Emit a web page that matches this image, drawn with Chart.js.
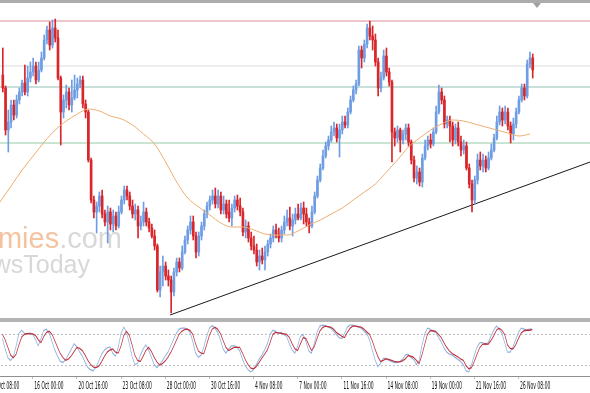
<!DOCTYPE html>
<html>
<head>
<meta charset="utf-8">
<script src="https://cdn.jsdelivr.net/npm/chart.js@4.4.1/dist/chart.umd.min.js"></script>
<style>
  html, body { margin: 0; padding: 0; background: #fff; }
  #wrap { position: relative; width: 590px; height: 393px; overflow: hidden; background: #fff; }
  #main { position: absolute; left: 0; top: 0; }
  #topbar { position: absolute; left: 0; top: 0; width: 590px; height: 3px; background: #acacac; }
  #shift { position: absolute; left: 533px; top: 3px; width: 0; height: 0;
           border-left: 4px solid transparent; border-right: 4px solid transparent; border-top: 5px solid #a0a0a0; }
  #sep { position: absolute; left: 0; top: 318px; width: 590px; height: 4px; background: #b4b4b4; }
  #stochBox { position: absolute; left: -27.56px; top: 322px; transform: scaleX(0.5); transform-origin: 0 0; }
</style>
</head>
<body>
<div id="wrap">
  <canvas id="main" width="590" height="318"></canvas>
  <div id="topbar"></div>
  <div id="shift"></div>
  <div id="sep"></div>
  <div id="stochBox"><canvas id="stoch" width="1235" height="71"></canvas></div>
</div>
<script>
// 4H свечи, индекс бара 0 = 13 Oct 08:00
const FIRST_BAR = 5;

const OPEN = [
  325,312,270,278,295,285,300,308,317,308,
  322,328,334,320,330,342,360,370,355,372,
  362,322,288,300,308,295,302,310,316,320,
  296,288,240,200,188,194,204,186,178,188,
  176,184,174,188,200,210,204,194,186,190,
  174,178,188,178,172,164,154,110,128,134,
  124,120,108,128,138,132,148,160,170,178,
  164,148,164,174,186,194,200,204,196,204,
  190,196,188,182,192,200,194,188,168,174,
  162,154,150,138,144,140,148,156,162,170,
  166,162,170,178,182,174,180,186,182,192,
  186,178,174,188,204,220,232,244,254,260,
  268,272,262,270,278,275,288,300,310,316,
  350,342,356,372,364,360,338,312,322,344,
  328,318,268,262,270,260,266,272,258,240,
  222,228,218,242,254,260,256,268,288,308,
  300,276,280,274,260,272,258,250,254,232,
  216,200,220,240,234,240,232,242,250,262,
  278,288,280,288,274,266,276,288,300,312,
  304,336,342
];
const HIGH = [
  352,314,290,300,300,305,312,320,335,334,
  338,342,338,338,348,365,374,378,380,381,
  370,324,305,315,312,320,325,322,324,324,
  300,290,242,204,198,208,210,190,194,192,
  190,188,194,204,214,214,208,200,196,194,
  184,198,192,182,176,170,156,134,144,138,
  130,124,132,142,142,154,164,174,184,184,
  168,168,178,190,198,204,210,212,210,208,
  204,200,200,196,204,205,202,192,180,178,
  168,164,156,150,152,154,160,166,174,176,
  172,174,184,190,193,186,192,196,197,198,
  192,182,194,208,224,236,250,258,264,274,
  278,276,276,284,284,292,304,314,320,354,
  354,360,376,379,374,366,342,328,350,352,
  332,320,272,274,272,270,276,276,260,244,
  234,232,246,260,264,266,272,294,315,312,
  304,284,284,278,276,278,264,260,258,236,
  220,224,246,248,246,244,248,256,266,284,
  294,292,294,292,278,282,292,304,316,316,
  340,348,346
];
const LOW = [
  308,265,248,272,280,282,296,304,305,304,
  318,324,316,318,328,340,356,350,352,358,
  320,255,282,292,290,288,300,302,312,292,
  282,238,197,182,167,188,182,174,157,170,
  168,170,172,186,196,200,190,182,180,162,
  170,174,174,168,162,150,108,103,114,120,
  114,87,104,124,128,130,146,156,166,160,
  142,144,160,170,182,190,196,192,192,186,
  186,182,178,174,188,190,184,164,162,158,
  150,146,134,130,136,130,144,152,158,162,
  158,158,166,174,170,164,176,180,180,176,
  174,167,172,186,202,218,230,242,250,258,
  264,258,243,266,272,272,286,298,306,314,
  332,338,352,360,350,334,304,308,320,324,
  314,238,254,258,248,256,260,254,236,218,
  216,214,213,240,250,252,254,266,286,296,
  272,272,258,254,256,254,244,246,230,212,
  188,196,216,230,228,228,230,240,248,260,
  275,274,276,270,257,260,272,286,298,300,
  302,332,322
];
const CLOSE = [
  312,270,278,295,285,300,308,317,308,322,
  328,334,320,330,342,360,370,355,372,362,
  322,288,300,308,295,302,310,316,320,296,
  288,240,200,188,194,204,186,178,188,176,
  184,174,188,200,210,204,194,186,190,174,
  178,188,178,172,164,154,110,128,134,124,
  120,108,128,138,132,148,160,170,178,164,
  148,164,174,186,194,200,204,196,204,190,
  196,186,182,192,200,194,188,168,174,162,
  154,150,138,144,140,148,156,162,170,166,
  162,170,178,182,174,180,186,182,192,186,
  178,174,188,204,220,232,244,254,260,268,
  272,262,270,278,275,288,300,310,316,350,
  342,356,372,364,360,338,312,322,344,328,
  318,268,262,270,260,266,272,258,240,222,
  228,218,242,254,260,256,268,288,308,300,
  276,280,274,260,272,258,250,254,232,216,
  200,220,240,234,240,232,242,250,262,278,
  288,280,288,274,266,276,288,300,312,304,
  336,342,330
];

// скользящая средняя, через каждые 4 бара
const MA_BARS = [4,8,12,16,20,24,28,32,36,40,44,48,52,56,60,64,68,72,76,80,84,88,92,96,100,
  104,108,112,116,120,124,128,132,136,140,144,148,152,156,160,164,168,172,176,180,184,188,192,196];
const MA_VALUES = [198,214,230,244,258,270,279,286,291,289,284,281,275,266,256,238,218,202,193,185,177,173,173,170,166,
  165,165,169,175,180,186,192,200,208,216,228,240,253,262,270,276,280,279,276,273,270,267,264,266];

// горизонтальные уровни и трендовая линия
const LEVELS = [379, 334, 313, 257];
const LEVEL_COLORS = ["#d98c95", "#dcdcdc", "#8fc2b4", "#93cba6"];
const TREND_BARS = [65.6, 217.8];
const TREND_VALUES = [85, 238];

// стохастик %K и %D
const STOCH_K = [
  72,52,35,30,38,58,82,88,82,80,
  83,80,70,58,72,88,90,82,66,50,
  38,28,26,32,42,52,62,56,46,38,
  26,16,12,10,18,30,42,50,54,56,
  44,38,56,82,94,84,62,38,22,24,
  40,52,60,50,36,22,16,22,30,38,
  46,58,70,82,90,92,92,90,84,66,
  44,36,40,56,76,92,97,92,84,70,
  52,44,52,58,58,56,48,32,20,12,
  8,12,22,32,40,50,62,80,88,86,
  82,84,80,76,62,50,44,58,76,80,
  66,48,44,62,84,96,98,97,94,92,
  86,80,74,72,82,94,98,98,96,94,
  92,86,82,70,50,32,18,24,34,34,
  30,28,26,26,28,32,40,42,36,32,
  22,30,58,80,92,90,86,84,74,66,
  54,46,42,40,36,32,28,22,10,8,
  22,40,56,64,64,60,64,76,88,96,
  90,82,64,46,46,56,70,84,92,90,
  88,90,90
];
const STOCH_D = [
  80,70,55,40,35,42,60,75,80,82,
  81,81,78,70,64,76,84,86,80,68,
  55,43,35,30,33,39,47,55,53,49,
  40,30,22,17,16,19,28,38,46,50,
  52,46,44,58,78,86,78,60,40,30,
  28,38,49,55,47,36,27,21,24,29,
  36,45,56,68,80,86,89,90,88,80,
  62,48,44,43,60,78,90,94,90,82,
  68,55,49,52,55,55,55,44,32,22,
  15,14,18,26,34,42,50,64,80,84,
  83,82,81,80,74,62,52,49,62,74,
  72,60,49,56,72,86,93,96,95,94,
  90,84,80,76,74,84,92,96,96,95,
  94,90,85,80,68,52,38,28,30,33,
  32,30,28,27,27,29,33,39,38,36,
  30,24,40,60,80,87,87,86,80,74,
  64,55,48,43,40,37,33,30,20,14,
  16,28,42,55,61,62,61,68,77,88,
  92,88,80,60,53,52,60,72,83,87,
  88,88,89
];
const STOCH_LEVELS = [20, 80];

// подписи оси времени, каждые 16 баров
const TICK_BARS = [0,16,32,48,64,80,96,112,128,144,160,176,192];
const TICK_LABELS = ["13 Oct 08:00","16 Oct 00:00","20 Oct 16:00","23 Oct 08:00","28 Oct 00:00","30 Oct 16:00",
  "4 Nov 08:00","7 Nov 00:00","11 Nov 16:00","14 Nov 08:00","19 Nov 00:00","21 Nov 16:00","26 Nov 08:00"];

const COLORS = {
  bull: "#6f9de3",
  bear: "#d9262b",
  ma: "#eeae72",
  trend: "#1a1a1a",
  k: "#8aaedc",
  d: "#c0303a",
  grid: "#b8b8b8"
};

const bars = CLOSE.map((_, k) => FIRST_BAR + k);
const candleColors = CLOSE.map((c, k) => c >= OPEN[k] ? COLORS.bull : COLORS.bear);

const watermark = {
  id: "watermark",
  beforeDatasetsDraw(chart) {
    const ctx = chart.ctx;
    ctx.save();
    ctx.textAlign = "right";
    ctx.textBaseline = "alphabetic";
    ctx.font = '29px "Liberation Sans", Arial, sans-serif';
    const tail = ".com";
    const w = ctx.measureText(tail).width;
    ctx.fillStyle = "#d8d8d8";
    ctx.fillText(tail, 122, 248);
    ctx.fillStyle = "#f4c3a0";
    ctx.fillText("economies", 122 - w, 248);
    ctx.font = '25px "Liberation Sans", Arial, sans-serif';
    ctx.fillStyle = "#d8d8d8";
    ctx.fillText("NewsToday", 90, 273);
    ctx.restore();
  }
};

const hline = (v, color, order) => ({
  type: "line",
  data: [{ x: 0, y: v }, { x: 230, y: v }],
  borderColor: color,
  borderWidth: 1,
  pointRadius: 0,
  order
});

new Chart(document.getElementById("main"), {
  type: "bar",
  data: {
    datasets: [
      {
        type: "line",
        label: "MA",
        data: MA_BARS.map((x, k) => ({ x, y: MA_VALUES[k] })),
        borderColor: COLORS.ma,
        borderWidth: 1,
        pointRadius: 0,
        cubicInterpolationMode: "monotone",
        order: 0
      },
      {
        label: "body",
        data: bars.map((x, k) => ({ x, y: [OPEN[k], CLOSE[k]] })),
        backgroundColor: candleColors,
        barThickness: 2,
        minBarLength: 1,
        grouped: false,
        order: 1
      },
      {
        label: "wick",
        data: bars.map((x, k) => ({ x, y: [LOW[k], HIGH[k]] })),
        backgroundColor: candleColors,
        barThickness: 1,
        grouped: false,
        order: 2
      },
      {
        type: "line",
        label: "trend",
        data: TREND_BARS.map((x, k) => ({ x, y: TREND_VALUES[k] })),
        borderColor: COLORS.trend,
        borderWidth: 1,
        pointRadius: 0,
        order: 3
      },
      ...LEVELS.map((v, k) => hline(v, LEVEL_COLORS[k], 4))
    ]
  },
  options: {
    responsive: false,
    animation: false,
    events: [],
    layout: { padding: 0 },
    plugins: { legend: { display: false }, tooltip: { enabled: false } },
    scales: {
      x: { type: "linear", min: 3.986, max: 217.75, offset: false, display: false },
      y: { min: 82, max: 400, display: false }
    }
  },
  plugins: [watermark]
});

new Chart(document.getElementById("stoch"), {
  type: "line",
  data: {
    datasets: [
      {
        label: "%K",
        data: bars.map((x, k) => ({ x, y: STOCH_K[k] })),
        borderColor: COLORS.k,
        borderWidth: 1.3,
        pointRadius: 0,
        order: 1
      },
      {
        label: "%D",
        data: bars.map((x, k) => ({ x, y: STOCH_D[k] })),
        borderColor: COLORS.d,
        borderWidth: 1.3,
        pointRadius: 0,
        order: 0
      },
      ...STOCH_LEVELS.map(v => ({
        label: "lvl",
        data: [{ x: -10, y: v }, { x: 230, y: v }],
        borderColor: COLORS.grid,
        borderWidth: 1,
        borderDash: [4, 4],
        pointRadius: 0,
        order: 2
      }))
    ]
  },
  options: {
    responsive: false,
    animation: false,
    events: [],
    layout: { padding: { top: 2, left: 0, right: 0, bottom: 0 } },
    plugins: { legend: { display: false }, tooltip: { enabled: false } },
    scales: {
      x: {
        type: "linear",
        min: -6,
        max: 217.73,
        offset: false,
        afterBuildTicks: s => { s.ticks = TICK_BARS.map(v => ({ value: v })); },
        ticks: {
          autoSkip: false,
          maxRotation: 0,
          align: "start",
          labelOffset: 3,
          padding: 1,
          color: "#111",
          font: { family: "DejaVu Sans Condensed", size: 10 },
          callback: v => TICK_LABELS[TICK_BARS.indexOf(v)]
        },
        grid: { drawOnChartArea: false, drawTicks: true, tickLength: 3, color: "#808080" },
        border: { display: true, color: "#909090" }
      },
      y: { min: 0, max: 100, display: false }
    }
  }
});
</script>
</body>
</html>
